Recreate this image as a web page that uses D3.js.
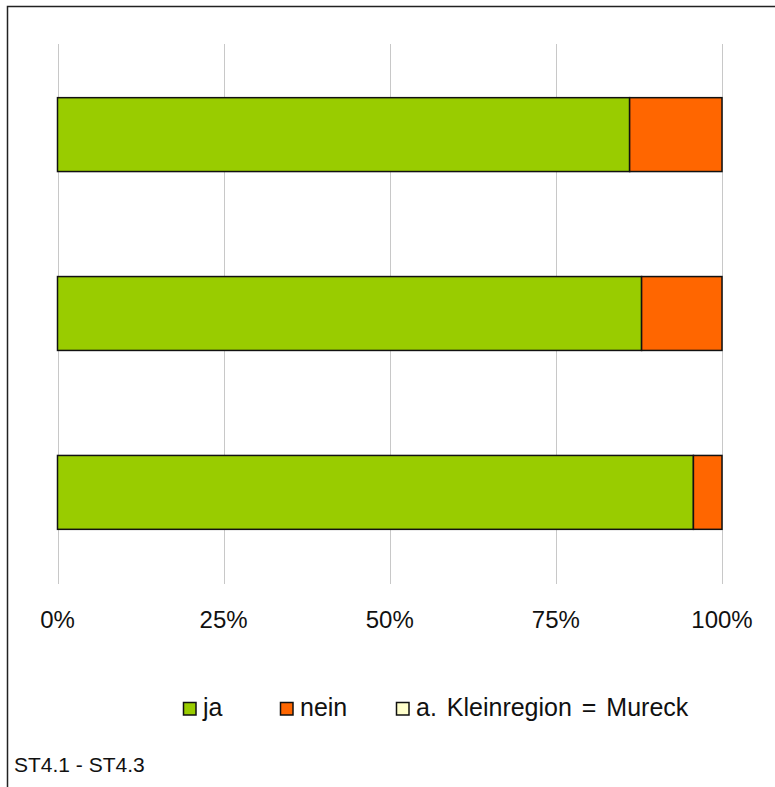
<!DOCTYPE html>
<html><head><meta charset="utf-8">
<script src="https://cdn.jsdelivr.net/npm/d3@7"></script>
<style>body{margin:0;background:#fff}svg{display:block;font-family:"Liberation Sans",Arial,sans-serif}</style>
</head><body>
<script>
const categories = ["ST4.1", "ST4.2", "ST4.3"];
const seriesNames = ["ja", "nein", "a. Kleinregion = Mureck"];
const ja = [0.861, 0.879, 0.957];
const nein = [0.139, 0.121, 0.043];
const mureck = [0, 0, 0];
const colors = ["#99CC00", "#FF6600", "#FFFFCC"];
const tickValues = [0, 0.25, 0.5, 0.75, 1];
const footer = "ST4.1 - ST4.3";

const W = 775, H = 787;
const svg = d3.select("body").append("svg").attr("width", W).attr("height", H);
svg.append("rect").attr("width", W).attr("height", H).attr("fill", "#fff");
svg.append("path").attr("d", `M7.5,${H}V6.5H${W}`).attr("fill", "none").attr("stroke", "#222").attr("stroke-width", 1.5);

const x = d3.scaleLinear().domain([0, 1]).range([57.5, 722]);
const y = d3.scaleBand().domain(categories).range([44, 583]).paddingInner(0.587).paddingOuter(0.3);

// grid
svg.append("g").selectAll("line").data(tickValues).join("line")
  .attr("x1", d => Math.round(x(d)) + 0.5).attr("x2", d => Math.round(x(d)) + 0.5)
  .attr("y1", 44).attr("y2", 584).attr("stroke", "#c8c8c8").attr("stroke-width", 1);

const rows = categories.map((c, i) => ({c, vals: [ja[i], nein[i], mureck[i]]}));
rows.forEach(r => {
  let acc = 0;
  r.vals.forEach((v, k) => {
    if (v > 0) {
      svg.append("rect").attr("x", x(acc)).attr("width", x(acc + v) - x(acc))
        .attr("y", y(r.c)).attr("height", y.bandwidth())
        .attr("fill", colors[k]).attr("stroke", "#111").attr("stroke-width", 1.5);
    }
    acc += v;
  });
});

// axis labels
svg.append("g").selectAll("text").data(tickValues).join("text")
  .attr("x", d => x(d)).attr("y", 628).attr("text-anchor", "middle")
  .attr("font-size", 24).attr("fill", "#111").text(d => d3.format(".0%")(d));

// legend
const legSq = [183, 280, 396];
const legTx = [203, 300, 416];
const lg = svg.append("g").selectAll("g").data(seriesNames).join("g");
lg.append("rect").attr("x", (d, i) => legSq[i] + 0.5).attr("y", 702.5).attr("width", 12.5).attr("height", 12.5)
  .attr("fill", (d, i) => colors[i]).attr("stroke", "#111").attr("stroke-width", 1.5);
lg.append("text").attr("x", (d, i) => legTx[i]).attr("y", 716).attr("font-size", 25)
  .attr("word-spacing", 3).attr("fill", "#111").text(d => d);

svg.append("text").attr("x", 14).attr("y", 772).attr("font-size", 21).attr("fill", "#111").text(footer);
</script>
</body></html>
